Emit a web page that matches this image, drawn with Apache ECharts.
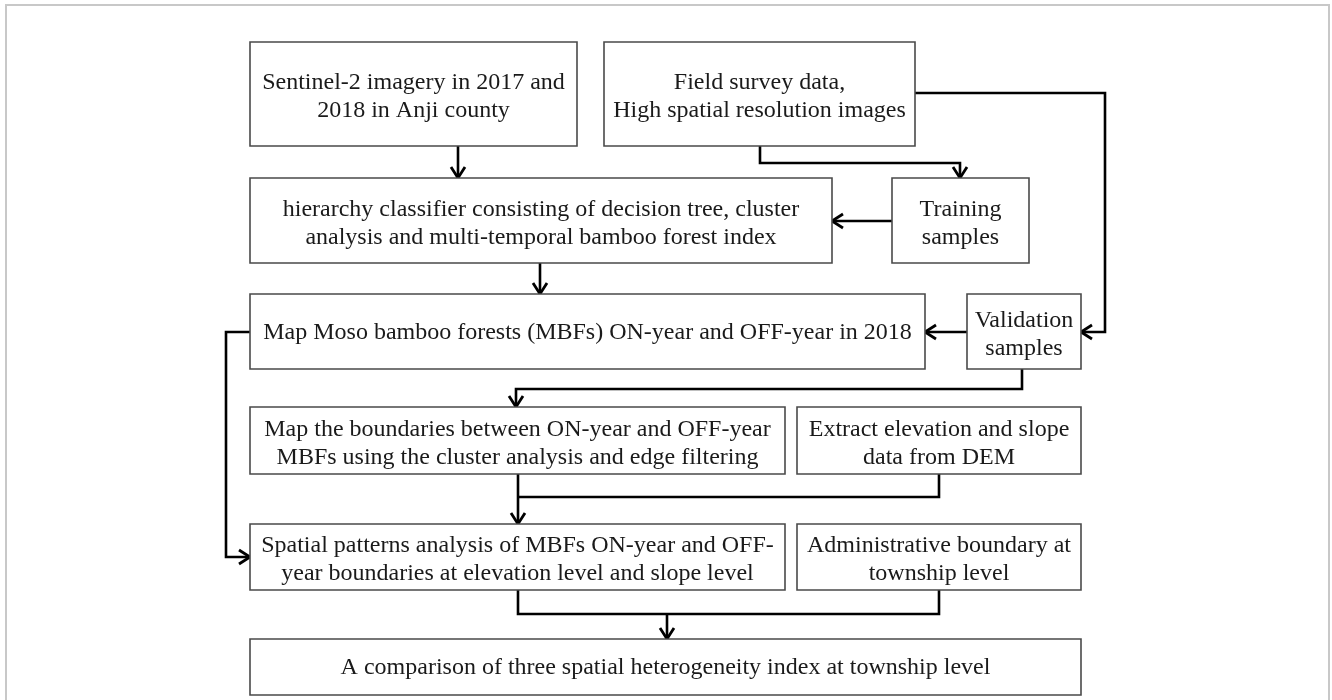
<!DOCTYPE html>
<html>
<head>
<meta charset="utf-8">
<script src="https://cdn.jsdelivr.net/npm/echarts@6/dist/echarts.min.js"></script>
<style>
  html, body { margin: 0; padding: 0; background: #fff; }
  #main { width: 1332px; height: 700px; }
</style>
</head>
<body>
<div id="main"></div>
<script>
// box texts (one entry per box)
var boxLabels = [
  'Sentinel-2 imagery in 2017 and\n2018 in Anji county',
  'Field survey data,\nHigh spatial resolution images',
  'hierarchy classifier consisting of decision tree, cluster\nanalysis and multi-temporal bamboo forest index',
  'Training\nsamples',
  'Map Moso bamboo forests (MBFs) ON-year and OFF-year in 2018',
  'Validation\nsamples',
  'Map the boundaries between ON-year and OFF-year\nMBFs using the cluster analysis and edge filtering',
  'Extract elevation and slope\ndata from DEM',
  'Spatial patterns analysis of MBFs ON-year and OFF-\nyear boundaries at elevation level and slope level',
  'Administrative boundary at\ntownship level',
  'A comparison of three spatial heterogeneity index at township level'
];

// box corners [x0, y0, x1, y1] in page units
var boxLayout = [
  [250, 42, 577, 146],
  [604, 42, 915, 146],
  [250, 178, 832, 263],
  [892, 178, 1029, 263],
  [250, 294, 925, 369],
  [967, 294, 1081, 369],
  [250, 407, 785, 474],
  [797, 407, 1081, 474],
  [250, 524, 785, 590],
  [797, 524, 1081, 590],
  [250, 639, 1081, 695]
];

// connectors: points of each polyline, arrow = arrowhead at the end
var links = [
  { pts: [[458, 146], [458, 178]], arrow: true },
  { pts: [[760, 146], [760, 163], [960, 163], [960, 178]], arrow: true },
  { pts: [[915, 93], [1105, 93], [1105, 332], [1081, 332]], arrow: true },
  { pts: [[892, 221], [832, 221]], arrow: true },
  { pts: [[540, 263], [540, 294]], arrow: true },
  { pts: [[967, 332], [925, 332]], arrow: true },
  { pts: [[1022, 369], [1022, 389], [516, 389], [516, 407]], arrow: true },
  { pts: [[250, 332], [226, 332], [226, 557], [250, 557]], arrow: true },
  { pts: [[939, 474], [939, 497], [518, 497]], arrow: false },
  { pts: [[518, 474], [518, 524]], arrow: true },
  { pts: [[939, 590], [939, 614], [518, 614], [518, 590]], arrow: false },
  { pts: [[667, 614], [667, 639]], arrow: true }
];

var chart = echarts.init(document.getElementById('main'));

function renderBox(params, api) {
  var b = boxLayout[params.dataIndex];
  var p0 = api.coord([b[0], b[1]]);
  var p1 = api.coord([b[2], b[3]]);
  var txt = boxLabels[params.dataIndex];
  var multi = txt.indexOf('\n') >= 0;
  return {
    type: 'group',
    children: [
      {
        type: 'rect',
        shape: { x: p0[0], y: p0[1], width: p1[0] - p0[0], height: p1[1] - p0[1] },
        style: { fill: '#fff', stroke: '#4a4a4a', lineWidth: 1.6 }
      },
      {
        type: 'text',
        style: {
          text: txt,
          x: (p0[0] + p1[0]) / 2,
          y: (p0[1] + p1[1]) / 2 + (multi ? 3 : 1),
          align: 'center',
          verticalAlign: 'middle',
          fontFamily: '"Liberation Serif", "DejaVu Serif", serif',
          fontSize: 24,
          lineHeight: 28,
          fill: '#1a1a1a'
        }
      }
    ]
  };
}

function renderLink(params, api) {
  var l = links[params.dataIndex];
  var pts = l.pts.map(function (p) { return api.coord(p); });
  var children = [{
    type: 'polyline',
    shape: { points: pts },
    style: { stroke: '#000', lineWidth: 2.6, fill: null }
  }];
  if (l.arrow) {
    var a = pts[pts.length - 2], e = pts[pts.length - 1];
    var dx = e[0] - a[0], dy = e[1] - a[1];
    var len = Math.sqrt(dx * dx + dy * dy);
    dx /= len; dy /= len;
    var s = 11, w = 7;
    var bx = e[0] - dx * s, by = e[1] - dy * s;
    children.push({
      type: 'polyline',
      shape: { points: [[bx - dy * w, by + dx * w], [e[0], e[1]], [bx + dy * w, by - dx * w]] },
      style: { stroke: '#000', lineWidth: 2.8, fill: null }
    });
  }
  return { type: 'group', children: children };
}

chart.setOption({
  animation: false,
  backgroundColor: '#fff',
  grid: { left: 0, right: 0, top: 0, bottom: 0 },
  xAxis: { type: 'value', min: 0, max: 1332, show: false },
  yAxis: { type: 'value', min: 0, max: 700, inverse: true, show: false },
  graphic: [{
    type: 'rect',
    shape: { x: 6, y: 5, width: 1323, height: 720 },
    style: { fill: null, stroke: '#c8c8c8', lineWidth: 2 }
  }],
  series: [
    {
      type: 'custom',
      renderItem: renderLink,
      data: links.map(function (l, i) { return [i]; }),
      z: 1
    },
    {
      type: 'custom',
      renderItem: renderBox,
      data: boxLabels.map(function (t, i) { return [i]; }),
      z: 2
    }
  ]
});
</script>
</body>
</html>
